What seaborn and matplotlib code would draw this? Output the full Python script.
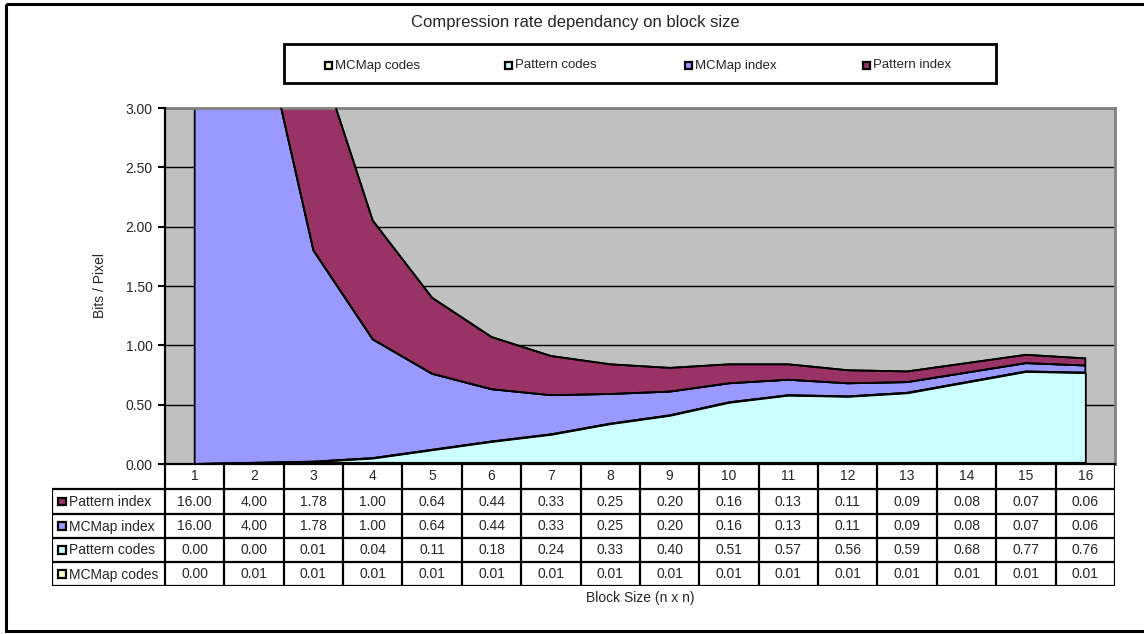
import numpy as np
import pandas as pd
import matplotlib
matplotlib.use("Agg")
import matplotlib.pyplot as plt
from matplotlib.patches import Rectangle
import seaborn as sns

# ---- data -------------------------------------------------------------
block_sizes = list(range(1, 17))
mcmap_codes = [0.00, 0.01, 0.01, 0.01, 0.01, 0.01, 0.01, 0.01,
               0.01, 0.01, 0.01, 0.01, 0.01, 0.01, 0.01, 0.01]
pattern_codes = [0.00, 0.00, 0.01, 0.04, 0.11, 0.18, 0.24, 0.33,
                 0.40, 0.51, 0.57, 0.56, 0.59, 0.68, 0.77, 0.76]
mcmap_index = [16.00, 4.00, 1.78, 1.00, 0.64, 0.44, 0.33, 0.25,
               0.20, 0.16, 0.13, 0.11, 0.09, 0.08, 0.07, 0.06]
pattern_index = [16.00, 4.00, 1.78, 1.00, 0.64, 0.44, 0.33, 0.25,
                 0.20, 0.16, 0.13, 0.11, 0.09, 0.08, 0.07, 0.06]

series_names = ["MCMap codes", "Pattern codes", "MCMap index", "Pattern index"]
series_values = [mcmap_codes, pattern_codes, mcmap_index, pattern_index]
series_colors = ["#FFFFCC", "#CCFFFF", "#9999FF", "#993366"]
y_ticks = [0.0, 0.5, 1.0, 1.5, 2.0, 2.5, 3.0]

title_text = "Compression rate dependancy on block size"
y_label = "Bits / Pixel"
x_label = "Block Size (n x n)"

# ---- style ------------------------------------------------------------
sns.set_style("white")
plt.rcParams["font.family"] = ["Liberation Sans", "DejaVu Sans"]

W, H = 1144, 634
fig = plt.figure(figsize=(W / 100, H / 100), dpi=100)
fig.patch.set_facecolor("white")

def fx(px):
    return px / W

def fy(py):
    return 1 - py / H

# plot area in pixel bounds
PL, PR, PT, PB = 165, 1115, 108, 464
ax = fig.add_axes([fx(PL), fy(PB), fx(PR - PL), (PB - PT) / H])
ax.set_facecolor("#C0C0C0")

x = np.array(block_sizes, dtype=float)
stack = np.cumsum(np.array(series_values), axis=0)
lower = np.vstack([np.zeros_like(x), stack[:-1]])

for i, (name, col) in enumerate(zip(series_names, series_colors)):
    ax.fill_between(x, lower[i], stack[i], facecolor=col,
                    edgecolor="black", linewidth=1.3, zorder=2)

# outline of each stacked layer
long_df = pd.DataFrame({
    "block": np.tile(x, len(series_names)),
    "top": stack.ravel(),
    "series": np.repeat(series_names, len(x)),
})
sns.lineplot(data=long_df, x="block", y="top", units="series",
             estimator=None, color="black", linewidth=1.3, ax=ax,
             zorder=3, legend=False)

ax.set_xlim(0.5, 16.5)
ax.set_ylim(0, 3.0)
ax.set_yticks(y_ticks)
ax.set_yticklabels([f"{v:.2f}" for v in y_ticks], fontsize=10)
ax.set_xticks([])
ax.set_xlabel("")
ax.set_ylabel("")
ax.yaxis.grid(True, color="black", linewidth=1.0, zorder=0)
ax.set_axisbelow(True)
ax.tick_params(axis="y", direction="out", length=5, width=1.5,
               color="black", pad=4, left=True)
for side in ("left", "bottom"):
    ax.spines[side].set_color("black")
    ax.spines[side].set_linewidth(1.6)
    ax.spines[side].set_zorder(5)
for side in ("top", "right"):
    ax.spines[side].set_color("#808080")
    ax.spines[side].set_linewidth(2.0)

# ---- data table below the plot ---------------------------------------
TL = 52
row_edges = [464, 489, 514, 538, 562, 586]
col_w = (PR - PL) / 16.0
tab = fig.add_axes([fx(TL), fy(row_edges[-1]), fx(PR - TL),
                    (row_edges[-1] - row_edges[0]) / H])
tab.set_xlim(0.5 - (PL - TL) / col_w, 16.5)
tab.set_ylim(row_edges[-1] - PB, 0)
tab.axis("off")
lw_tab = 1.6
rel = [r - PB for r in row_edges]
label_left = tab.get_xlim()[0]

# vertical column rules
for k in range(17):
    xv = 0.5 + k
    tab.plot([xv, xv], [rel[0], rel[-1]], color="black", lw=lw_tab,
             solid_capstyle="projecting")
tab.plot([label_left, label_left], [rel[1], rel[-1]], color="black",
         lw=lw_tab, solid_capstyle="projecting")
# horizontal row rules
for r in rel[1:]:
    tab.plot([label_left, 16.5], [r, r], color="black", lw=lw_tab,
             solid_capstyle="projecting")

# header row with block sizes
for b in block_sizes:
    tab.text(b, (rel[0] + rel[1]) / 2, str(b), ha="center", va="center",
             fontsize=10)

# value rows, top to bottom in reverse stacking order
table_order = list(range(len(series_names)))[::-1]
for ri, si in enumerate(table_order):
    yc = (rel[ri + 1] + rel[ri + 2]) / 2
    for b, v in zip(block_sizes, series_values[si]):
        tab.text(b, yc, f"{v:.2f}", ha="center", va="center", fontsize=10)
    sq = 7.5 / col_w
    tab.add_patch(Rectangle((label_left + 6 / col_w, yc - 3.8), sq, 7.6,
                            facecolor=series_colors[si], edgecolor="black",
                            linewidth=1.6, zorder=4))
    tab.text(label_left + 17 / col_w, yc + 0.5, series_names[si],
             ha="left", va="center", fontsize=10)

# ---- frame, title, legend, axis labels (pixel overlay) ----------------
ov = fig.add_axes([0, 0, 1, 1], facecolor="none")
ov.set_xlim(0, W)
ov.set_ylim(H, 0)
ov.axis("off")
ov.add_patch(Rectangle((6, 4), W + 20, 627, facecolor="none",
                       edgecolor="black", linewidth=2.2))
ov.text(575, 22, title_text, ha="center", va="center", fontsize=12)

ov.add_patch(Rectangle((284, 44), 712, 39, facecolor="white",
                       edgecolor="black", linewidth=2.0))
legend_x = [328, 508, 688, 866]
for lx, name, col in zip(legend_x, series_names, series_colors):
    ov.add_patch(Rectangle((lx - 3.5, 62), 7, 7, facecolor=col,
                           edgecolor="black", linewidth=1.6))
    ov.text(lx + 7, 65.5, name, ha="left", va="center", fontsize=9.5)

ov.text(100, 286, y_label, ha="center", va="center", rotation=90,
        fontsize=10)
ov.text((PL + PR) / 2, 598, x_label, ha="center", va="center",
        fontsize=10)

fig.savefig("out.png", dpi=100)
